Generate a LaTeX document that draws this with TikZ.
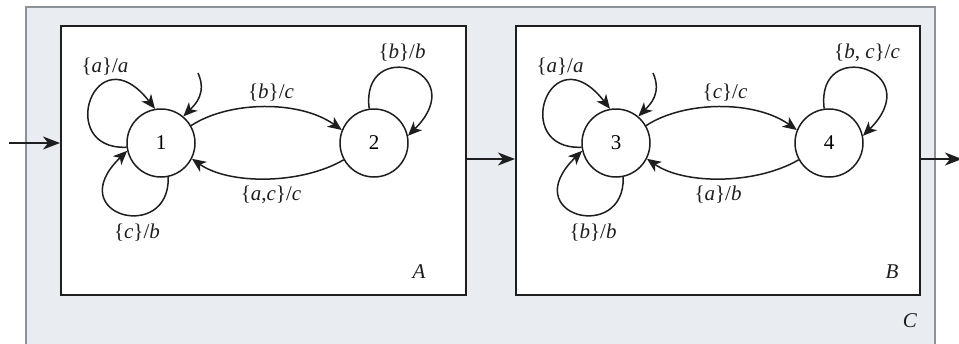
\documentclass[tikz,border=0pt]{standalone}
\usepackage{fontspec}
\setmainfont{Liberation Serif}
\usetikzlibrary{arrows.meta}
\definecolor{cfill}{HTML}{E9ECF0}
\definecolor{cedge}{HTML}{8C939B}
\definecolor{ink}{HTML}{1E1E1E}
\newcommand\ivar[1]{\textit{#1}}
\begin{document}
\begin{tikzpicture}[x=1pt,y=-1pt,
  state/.style={circle,draw=ink,line width=1.5pt,minimum size=68pt,inner sep=0pt,font=\fontsize{21}{23}\selectfont,fill=white},
  lbl/.style={font=\fontsize{21}{23}\selectfont,inner sep=0pt,text=ink},
  conn/.style={draw=ink,line width=1.5pt,-{Stealth[length=14pt,width=12pt,inset=4pt]}},
  bigarrow/.style={draw=ink,line width=1.4pt,-{Stealth[length=17pt,width=13pt,inset=5pt]}},
  boxstyle/.style={draw=ink,line width=1.5pt,fill=white}]
\useasboundingbox (0,0) rectangle (959,343);
\clip (0,0) rectangle (959,343);
\draw[fill=cfill,draw=cedge,line width=1.5pt] (26,7) rectangle (935,360);
\node[boxstyle,minimum width=405pt,minimum height=269pt,anchor=north west,inner sep=0pt] (A) at (60,25) {};
\node[boxstyle,minimum width=404pt,minimum height=269pt,anchor=north west,inner sep=0pt] (B) at (515,25) {};
% states
\node[state] (n1) at (161,143) {1};
\node[state] (n2) at (374,143) {2};
\node[state] (n3) at (616,143) {3};
\node[state] (n4) at (829,143) {4};
% labels
\node[lbl] (la1) at (105,67) {\{\ivar{a}\}/\ivar{a}};
\node[lbl] (lbc) at (271,93) {\{\ivar{b}\}/\ivar{c}};
\node[lbl] (lac) at (271,195) {\{\ivar{a},\ivar{c}\}/\ivar{c}};
\node[lbl] (lcb) at (137,233) {\{\ivar{c}\}/\ivar{b}};
\node[lbl] (lbb) at (402,53) {\{\ivar{b}\}/\ivar{b}};
\node[lbl] (lA) at (419,272) {\ivar{A}};
\node[lbl] (la3) at (560,67) {\{\ivar{a}\}/\ivar{a}};
\node[lbl] (lcc) at (725,93) {\{\ivar{c}\}/\ivar{c}};
\node[lbl] (lab) at (718,195) {\{\ivar{a}\}/\ivar{b}};
\node[lbl] (lbb3) at (593,233) {\{\ivar{b}\}/\ivar{b}};
\node[lbl] (lbcc) at (867,53) {\{\ivar{b}, \ivar{c}\}/\ivar{c}};
\node[lbl] (lB) at (892,272) {\ivar{B}};
\node[lbl] (lC) at (910,321) {\ivar{C}};
% block arrows
\coordinate (in) at (9,143);
\coordinate (out) at (962,159);
\draw[bigarrow] (in) -- (A.west |- in);
\draw[bigarrow] (A.east |- 0,159) -- (B.west |- 0,159);
\draw[bigarrow] (B.east |- 0,159) -- (out);
% machine A
\coordinate (i1) at (198,73);
\draw[conn] (i1) .. controls +(9,20) and +(12,-12) .. (n1.50);
\draw[conn] (n1.187) .. controls +(-72,3) and +(-60,-77) .. (n1.100);
\draw[conn] (n1.282) .. controls +(2,67) and +(-67,65) .. (n1.193);
\draw[conn] (n2.98) .. controls +(-9,-73) and +(66,-66) .. (n2.12);
\draw[conn] (n1.30) .. controls +(38,-25) and +(-42,-30) .. (n2.158);
\draw[conn] (n2.209) .. controls +(-43,25) and +(37,26) .. (n1.333);
% machine B
\coordinate (i3) at (653,73);
\draw[conn] (i3) .. controls +(9,20) and +(12,-12) .. (n3.50);
\draw[conn] (n3.187) .. controls +(-72,3) and +(-60,-77) .. (n3.100);
\draw[conn] (n3.282) .. controls +(2,67) and +(-67,65) .. (n3.193);
\draw[conn] (n4.98) .. controls +(-9,-73) and +(66,-66) .. (n4.12);
\draw[conn] (n3.30) .. controls +(38,-25) and +(-42,-30) .. (n4.158);
\draw[conn] (n4.209) .. controls +(-43,25) and +(37,26) .. (n3.333);
\end{tikzpicture}
\end{document}
